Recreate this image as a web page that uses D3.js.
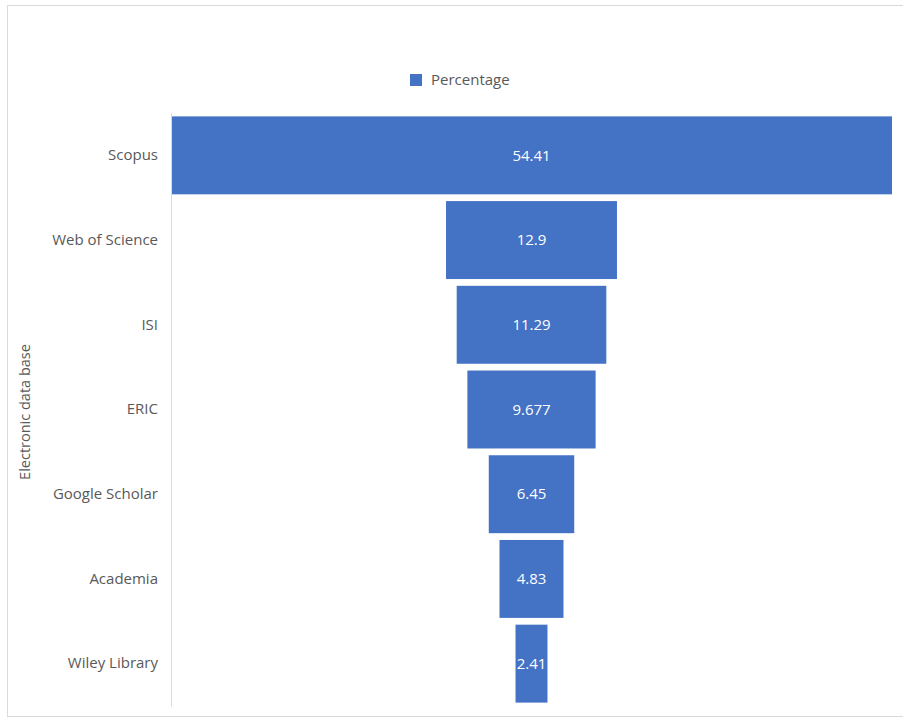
<!DOCTYPE html>
<html>
<head>
<meta charset="utf-8">
<script src="https://cdn.jsdelivr.net/npm/d3@7"></script>
<style>
  body { margin: 0; background: #fff; }
  svg { font-family: "Open Sans", "Noto Sans", sans-serif; }
</style>
</head>
<body>
<div id="chart"></div>
<script>
var categories = ["Scopus", "Web of Science", "ISI", "ERIC", "Google Scholar", "Academia", "Wiley Library"];
var values = [54.41, 12.9, 11.29, 9.677, 6.45, 4.83, 2.41];
var labels = ["54.41", "12.9", "11.29", "9.677", "6.45", "4.83", "2.41"];
var seriesName = "Percentage";
var axisTitle = "Electronic data base";

var W = 903, H = 717;
var margin = {top: 113, right: 11, bottom: 11, left: 171},
    width = W - margin.left - margin.right,
    height = H - margin.top - margin.bottom;

var svg = d3.select("#chart")
  .append("svg")
  .attr("width", W)
  .attr("height", H);

// outer frame
svg.append("rect")
  .attr("x", 7.5).attr("y", 5.5)
  .attr("width", W + 10).attr("height", 711)
  .attr("fill", "none")
  .attr("stroke", "#d9d9d9");

var g = svg.append("g")
  .attr("transform", "translate(" + margin.left + "," + margin.top + ")");

var data = categories.map(function(c, i) { return {cat: c, value: values[i], label: labels[i]}; });

var y = d3.scaleBand()
  .domain(categories)
  .range([0, 593])
  .paddingInner(0.08)
  .paddingOuter(0.04);

// funnel: widths centred in plot area
var x = d3.scaleLinear()
  .domain([-d3.max(values) / 2, d3.max(values) / 2])
  .range([0, 721]);

g.selectAll(".bar")
  .data(data)
  .enter()
  .append("rect")
  .attr("class", "bar")
  .style("fill", "#4472c4")
  .attr("x", function(d) { return x(-d.value / 2); })
  .attr("y", function(d) { return y(d.cat); })
  .attr("width", function(d) { return x(d.value / 2) - x(-d.value / 2); })
  .attr("height", y.bandwidth());

g.selectAll(".val")
  .data(data)
  .enter()
  .append("text")
  .attr("class", "val")
  .attr("x", x(0))
  .attr("y", function(d) { return y(d.cat) + y.bandwidth() / 2; })
  .attr("dy", "0.35em")
  .attr("text-anchor", "middle")
  .attr("fill", "#fff")
  .style("font-size", "15px")
  .text(function(d) { return d.label; });

var yAxis = d3.axisLeft(y).tickSize(0).tickPadding(13);
var ax = g.append("g")
  .attr("class", "axis-y")
  .call(yAxis);
ax.select(".domain").attr("stroke", "#d9d9d9");
ax.selectAll("text")
  .attr("fill", "#595959")
  .style("font-size", "15px")
  .style("font-family", "'Open Sans', 'Noto Sans', sans-serif");

svg.append("text")
  .attr("transform", "translate(30," + 412 + ") rotate(-90)")
  .attr("text-anchor", "middle")
  .attr("fill", "#595959")
  .style("font-size", "14.5px")
  .text(axisTitle);

// legend
var legend = svg.append("g").attr("transform", "translate(410,74)");
legend.append("rect")
  .attr("width", 12).attr("height", 12)
  .attr("fill", "#4472c4");
legend.append("text")
  .attr("x", 21).attr("y", 6)
  .attr("dy", "0.35em")
  .attr("fill", "#595959")
  .style("font-size", "15px")
  .text(seriesName);
</script>
</body>
</html>
